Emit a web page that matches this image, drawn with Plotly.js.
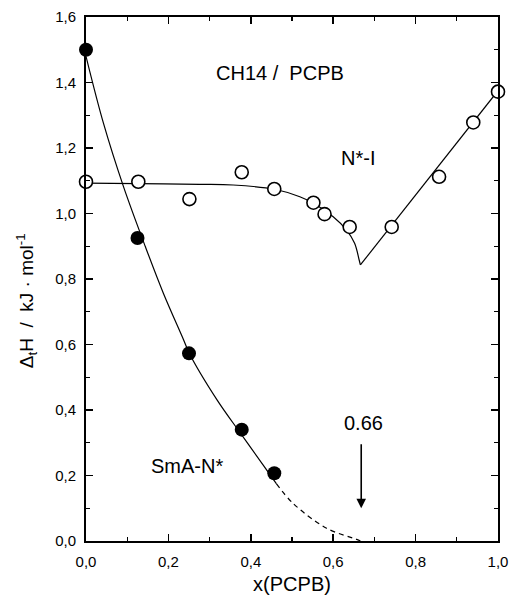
<!DOCTYPE html>
<html><head><meta charset="utf-8">
<script src="https://cdn.plot.ly/plotly-3.0.1.min.js"></script>
<style>html,body{margin:0;padding:0;background:#fff}#chart{width:510px;height:598px}</style>
</head><body><div id="chart"></div>
<script>
// Measured data
const smaX = [0, 0.125, 0.25, 0.378, 0.457];
const smaY = [1.50, 0.925, 0.573, 0.34, 0.207];
const niX = [0, 0.127, 0.251, 0.378, 0.457, 0.552, 0.579, 0.64, 0.742, 0.857, 0.94, 1.0];
const niY = [1.097, 1.097, 1.044, 1.126, 1.075, 1.033, 0.998, 0.959, 0.959, 1.112, 1.278, 1.372];
// Fit curves
const smaFitX = [0, 0.0425, 0.091, 0.144, 0.188, 0.237, 0.25, 0.318, 0.375, 0.431, 0.462];
const smaFitY = [1.48, 1.275, 1.082, 0.899, 0.756, 0.614, 0.575, 0.431, 0.329, 0.23, 0.175];
const smaDashX = [0.462, 0.5026, 0.584, 0.657, 0.666];
const smaDashY = [0.175, 0.115, 0.039, 0.005, 0.0];
const niFitLX = [0, 0.127, 0.276, 0.357, 0.458, 0.519, 0.552, 0.60, 0.632, 0.652, 0.663, 0.666];
const niFitLY = [1.093, 1.091, 1.089, 1.087, 1.074, 1.051, 1.031, 0.990, 0.950, 0.909, 0.858, 0.843];
const niFitRX = [0.666, 1.0];
const niFitRY = [0.843, 1.375];
const tickVals = [0, 0.2, 0.4, 0.6, 0.8, 1.0];
const xTickText = ['0,0', '0,2', '0,4', '0,6', '0,8', '1,0'];
const yTickVals = [0, 0.2, 0.4, 0.6, 0.8, 1.0, 1.2, 1.4, 1.6];
const yTickText = ['0,0', '0,2', '0,4', '0,6', '0,8', '1,0', '1,2', '1,4', '1,6'];
const arrowX = 0.668, arrowTail = 0.30, arrowHead = 0.10;

const FONT = 'Liberation Sans, Arial, sans-serif';
const ln = {color: '#000', width: 1.2, shape: 'spline', smoothing: 1};
const traces = [
  {x: smaFitX, y: smaFitY, mode: 'lines', line: ln, hoverinfo: 'skip'},
  {x: smaDashX, y: smaDashY, mode: 'lines', line: Object.assign({}, ln, {dash: '5px,4px'}), hoverinfo: 'skip'},
  {x: niFitLX, y: niFitLY, mode: 'lines', line: ln, hoverinfo: 'skip'},
  {x: niFitRX, y: niFitRY, mode: 'lines', line: {color: '#000', width: 1.2}, hoverinfo: 'skip'},
  {x: smaX, y: smaY, mode: 'markers', marker: {color: '#000', size: 14, line: {width: 0}}, cliponaxis: false},
  {x: niX, y: niY, mode: 'markers', marker: {color: '#fff', size: 13, line: {color: '#000', width: 1.6}}, cliponaxis: false}
];
const axisCommon = {
  showgrid: false, zeroline: false, showline: true, linecolor: '#000', linewidth: 2,
  mirror: 'ticks', ticks: 'inside', ticklen: 7, tickwidth: 1.5, tickcolor: '#000',
  tickfont: {family: FONT, size: 15, color: '#000'},
  minor: {dtick: 0.1, ticks: 'inside', ticklen: 4, tickwidth: 1.2, tickcolor: '#000', showgrid: false}
};
const layout = {
  width: 510, height: 598, showlegend: false,
  paper_bgcolor: '#fff', plot_bgcolor: '#fff',
  margin: {l: 86, r: 12, t: 17, b: 57},
  xaxis: Object.assign({}, axisCommon, {range: [0, 1], tickvals: tickVals, ticktext: xTickText, ticklabelstandoff: 6,
    title: {text: 'x(PCPB)', font: {family: FONT, size: 20, color: '#000'}, standoff: 8}}),
  yaxis: Object.assign({}, axisCommon, {range: [0, 1.6], tickvals: yTickVals, ticktext: yTickText, ticklabelstandoff: 5}),
  annotations: [
    {x: -0.145, y: 0.458, xref: 'paper', yref: 'paper', textangle: -90, xanchor: 'center', yanchor: 'middle',
     text: 'Δ<sub>t</sub>H  /  kJ · mol<sup>-1</sup>', showarrow: false, font: {family: FONT, size: 19, color: '#000'}},
    {x: 0.47, y: 1.43, xref: 'x', yref: 'y', text: 'CH14 /  PCPB', showarrow: false, font: {family: FONT, size: 20, color: '#000'}},
    {x: 0.66, y: 1.17, xref: 'x', yref: 'y', text: 'N*-I', showarrow: false, font: {family: FONT, size: 20, color: '#000'}},
    {x: 0.245, y: 0.23, xref: 'x', yref: 'y', text: 'SmA-N*', showarrow: false, font: {family: FONT, size: 20, color: '#000'}},
    {x: 0.673, y: 0.36, xref: 'x', yref: 'y', text: '0.66', showarrow: false, font: {family: FONT, size: 20, color: '#000'}},
    {x: arrowX, y: arrowHead, ax: arrowX, ay: arrowTail, xref: 'x', yref: 'y', axref: 'x', ayref: 'y', text: '', showarrow: true, arrowhead: 2, arrowsize: 1.2, arrowwidth: 1.6, arrowcolor: '#000'}
  ]
};
Plotly.newPlot('chart', traces, layout, {displayModeBar: false, staticPlot: true});
</script></body></html>
